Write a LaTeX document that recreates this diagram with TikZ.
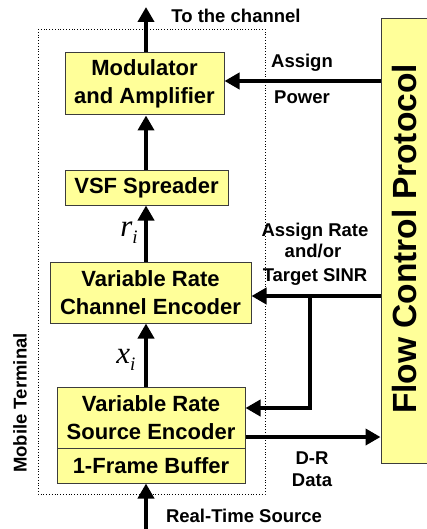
\documentclass[tikz,border=0pt]{standalone}
\usepackage{fontspec}
\setmainfont{Liberation Sans}
\newfontfamily\varfont{Liberation Serif}
\usetikzlibrary{arrows.meta}
\definecolor{boxfill}{RGB}{255,255,153}
\definecolor{boxline}{RGB}{60,60,60}
\newcommand{\BLK}{\fontsize{22}{28}\selectfont\bfseries}
\newcommand{\LBL}{\fontsize{18.5}{21}\selectfont\bfseries}
\newcommand{\VAR}[2]{{\varfont\itshape\fontsize{31}{33}\selectfont #1\raisebox{-7pt}{\fontsize{19}{19}\selectfont #2}}}

\begin{document}
\begin{tikzpicture}[x=1pt,y=-1pt,
  blk/.style={draw=boxline,fill=boxfill,line width=1pt,inner sep=0pt,align=center,font=\BLK},
  arr/.style={line width=4pt,-{Triangle[length=15pt,width=16pt]}},
  lbl/.style={font=\LBL,inner sep=0pt,align=center}]
  \useasboundingbox (0,0) rectangle (426,529);
  \draw[dotted,line width=0.8pt] (38,29) rectangle (265,494);
  \node[lbl,rotate=90,font=\fontsize{18.5}{20}\selectfont\bfseries] (mt) at (20,403) {Mobile Terminal};

  \node[blk,minimum width=159pt,minimum height=62pt] (mod) at (144.5,84) {Modulator\\and Amplifier};
  \node[blk,minimum width=163pt,minimum height=34pt] (vsf) at (146.5,188) {VSF Spreader};
  \node[blk,minimum width=201pt,minimum height=61pt] (chenc) at (150.5,292.5) {Variable Rate\\Channel Encoder};
  \node[blk,minimum width=188pt,minimum height=61pt] (srcenc) at (151,417.5) {Variable Rate\\Source Encoder};
  \node[blk,minimum width=188pt,minimum height=35pt] (buf) at (151,465.5) {1-Frame Buffer};
  \node[blk,minimum width=50pt,minimum height=444pt] (fcp) at (406,241) {};
  \node[rotate=90,font=\fontsize{33.5}{36}\selectfont\bfseries,inner sep=0pt] (fcptxt) at (405,239) {Flow Control Protocol};

  \coordinate (spine) at (146,0);
  \coordinate (chan) at (146,7);
  \coordinate (rts) at (146,529);
  \draw[arr] (mod.north -| spine) -- (chan);
  \draw[arr] (vsf.north -| spine) -- (mod.south -| spine);
  \draw[arr] (chenc.north -| spine) -- (vsf.south -| spine);
  \draw[arr] (srcenc.north -| spine) -- (chenc.south -| spine);
  \draw[arr] (rts) -- (buf.south -| spine);

  \draw[arr] (fcp.west |- 0,81) -- (mod.east |- 0,81);
  \draw[arr] (fcp.west |- 0,296) -- (chenc.east |- 0,296);
  \coordinate (br) at (310,296);
  \coordinate (srcin) at (srcenc.east |- 0,408);
  \draw[arr] (br) |- (srcin);
  \coordinate (drout) at (srcenc.east |- 0,437);
  \draw[arr] (drout) -- (fcp.west |- drout);

  \node[lbl] (tochan) at (236,16) {To the channel};
  \node[lbl] (asg) at (302,63) {Assign};
  \node[lbl] (pwr) at (302,97) {Power};
  \node[lbl] (asgr) at (315,232) {Assign Rate};
  \node[lbl] (andor) at (313,251) {and/or};
  \node[lbl] (sinr) at (315,277) {Target SINR};
  \node[lbl] (dr) at (312,458) {D-R};
  \node[lbl] (data) at (312,480) {Data};
  \node[lbl] (src) at (244,516) {Real-Time Source};
  \node[inner sep=0pt] (ri) at (129,233) {\VAR{r}{i}};
  \node[inner sep=0pt] (xi) at (126,360) {\VAR{x}{i}};
\end{tikzpicture}
\end{document}
